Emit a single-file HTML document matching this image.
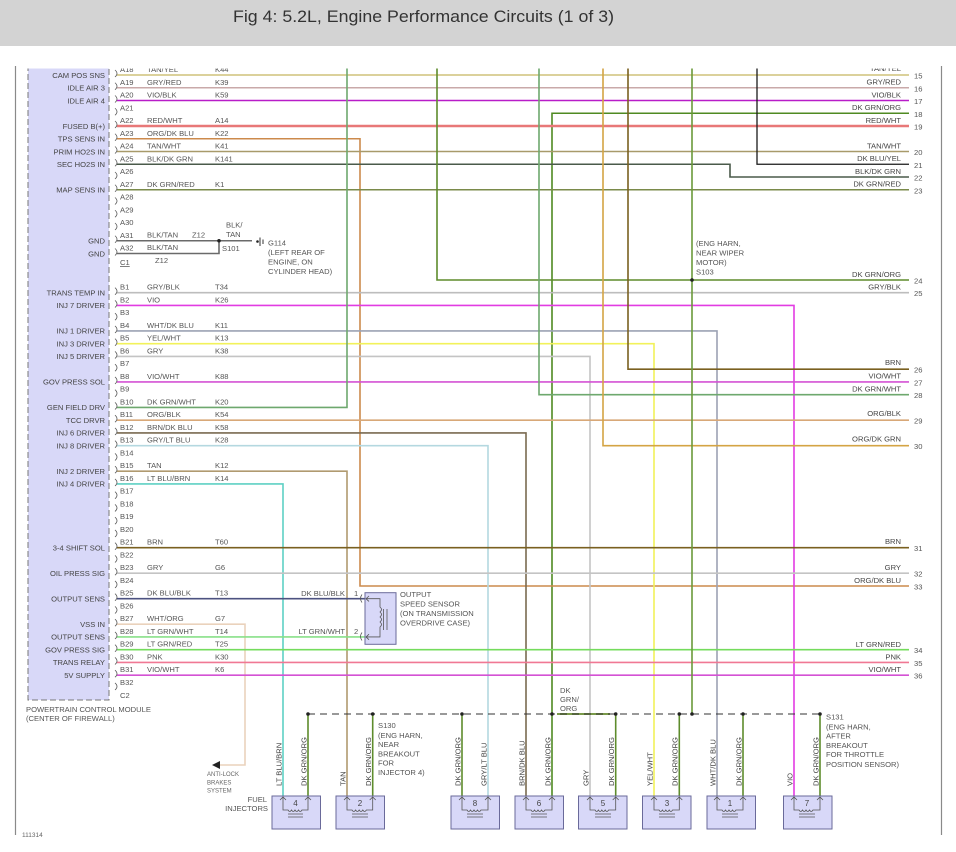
<!DOCTYPE html>
<html><head><meta charset="utf-8"><style>
html,body{margin:0;padding:0;background:#fff;}
svg{display:block;}
text{font-family:"Liberation Sans",Arial,sans-serif;}
</style></head><body>
<svg width="956" height="852" viewBox="0 0 956 852" xmlns="http://www.w3.org/2000/svg">
<defs><clipPath id="c"><rect x="0" y="68.5" width="956" height="790"/></clipPath></defs>
<rect width="956" height="852" fill="#fff"/>
<rect width="956" height="46" fill="#d3d3d3"/>
<text x="423.5" y="22" font-size="17" text-anchor="middle" textLength="381" lengthAdjust="spacingAndGlyphs" fill="#333">Fig 4: 5.2L, Engine Performance Circuits (1 of 3)</text>

<line x1="15.5" y1="66" x2="15.5" y2="835" stroke="#8a8a8a" stroke-width="1.2"/>
<line x1="941.5" y1="66" x2="941.5" y2="835" stroke="#8a8a8a" stroke-width="1.2"/>

<g clip-path="url(#c)">
<!-- PCM box -->
<rect x="28" y="60" width="81" height="640" fill="#d8d8f8" stroke="#777" stroke-width="1" stroke-dasharray="6,3"/>

<!-- wires -->
<g fill="none" stroke-width="1.6">
<path d="M117,75 H909" stroke="#cfc27a"/>
<path d="M117,87.75 H909" stroke="#c9a9a9"/>
<path d="M117,100.5 H909" stroke="#b81cc8"/>
<path d="M909,113.25 H552 V796" stroke="#4f8a22"/>
<path d="M117,126 H909" stroke="#e87878" stroke-width="2.4"/>
<path d="M117,138.75 H360 V586 H909" stroke="#cc8a4c"/>
<path d="M117,151.5 H909" stroke="#a89a6a"/>
<path d="M117,164.25 H730 V177 H909" stroke="#4a5a4a"/>
<path d="M757,60 V164.25 H909" stroke="#1a1a1a" stroke-width="1.3"/>
<path d="M117,189.75 H909" stroke="#7a8a4a"/>
<path d="M117,240.75 H252" stroke="#6a6a6a"/>
<path d="M117,253.5 H219 V240.75" stroke="#6a6a6a"/>
<path d="M437,60 V280 H909" stroke="#5e8c2c"/>
<path d="M117,292.7 H909" stroke="#bdbdbd"/>
<path d="M117,305.45 H794 V796" stroke="#e23ce2"/>
<path d="M117,330.95 H717 V796" stroke="#9ca2b4"/>
<path d="M117,343.7 H654 V796" stroke="#f2f25a"/>
<path d="M117,356.45 H590 V796" stroke="#c4c4c4"/>
<path d="M628,60 V369.2 H909" stroke="#7a6020"/>
<path d="M117,381.95 H909" stroke="#d452d4"/>
<path d="M539,60 V394.7 H909" stroke="#6ea86e"/>
<path d="M117,407.45 H347 V60" stroke="#6ea86e"/>
<path d="M117,420.2 H909" stroke="#d8a878"/>
<path d="M117,432.95 H526 V796" stroke="#7a6a50"/>
<path d="M117,445.7 H488 V796" stroke="#b4d8e0"/>
<path d="M603,60 V445.7 H909" stroke="#d4a444"/>
<path d="M117,471.2 H347 V796" stroke="#b09a70"/>
<path d="M117,483.95 H283 V796" stroke="#5ed0c4"/>
<path d="M117,547.7 H909" stroke="#7a6020"/>
<path d="M117,573.2 H909" stroke="#c4c4c4"/>
<path d="M117,598.7 H366" stroke="#4c5280"/>
<path d="M117,624.2 H245 V765 H219" stroke="#ead2bc"/>
<path d="M117,636.95 H366" stroke="#88e088"/>
<path d="M117,649.7 H909" stroke="#74dc5c"/>
<path d="M117,662.45 H909" stroke="#f07894"/>
<path d="M117,675.2 H909" stroke="#d452d4"/>
<path d="M692,60 V714" stroke="#6a9a3a"/>
<path d="M308,714 V796 M372.7,714 V796 M462,714 V796 M615.7,714 V796 M679.3,714 V796 M743,714 V796 M820,714 V796" stroke="#5e8c2c"/>
<path d="M557,714 H610" stroke="#7a9a4a" stroke-width="2"/>
</g>

<path d="M308,714 H820" stroke="#333" stroke-width="1" stroke-dasharray="7,5" fill="none"/>
<g fill="#222">
<circle cx="308" cy="714" r="1.8"/><circle cx="372.7" cy="714" r="1.8"/><circle cx="462" cy="714" r="1.8"/>
<circle cx="552" cy="714" r="1.8"/><circle cx="615.7" cy="714" r="1.8"/><circle cx="679.3" cy="714" r="1.8"/>
<circle cx="692" cy="714" r="1.8"/><circle cx="743" cy="714" r="1.8"/><circle cx="820" cy="714" r="1.8"/>
<circle cx="692" cy="280" r="1.8"/><circle cx="219" cy="240.75" r="1.8"/>
<polygon points="212,765 220,761 220,769"/>
<circle cx="257.5" cy="241.5" r="1.3"/>
</g>
<path d="M260,237.5 V246 M263,239.5 V244" stroke="#333" stroke-width="1"/>

<g fill="none" stroke="#555" stroke-width="0.8">
<path d="M115,70 q4,3.5 0,7 M115,82.75 q4,3.5 0,7 M115,95.5 q4,3.5 0,7 M115,108.25 q4,3.5 0,7 M115,121 q4,3.5 0,7 M115,133.75 q4,3.5 0,7 M115,146.5 q4,3.5 0,7 M115,159.25 q4,3.5 0,7 M115,172 q4,3.5 0,7 M115,184.75 q4,3.5 0,7 M115,197.5 q4,3.5 0,7 M115,210.25 q4,3.5 0,7 M115,223 q4,3.5 0,7 M115,235.75 q4,3.5 0,7 M115,248.5 q4,3.5 0,7"/>
<path d="M115,287.7 q4,3.5 0,7 M115,300.45 q4,3.5 0,7 M115,313.2 q4,3.5 0,7 M115,325.95 q4,3.5 0,7 M115,338.7 q4,3.5 0,7 M115,351.45 q4,3.5 0,7 M115,364.2 q4,3.5 0,7 M115,376.95 q4,3.5 0,7 M115,389.7 q4,3.5 0,7 M115,402.45 q4,3.5 0,7 M115,415.2 q4,3.5 0,7 M115,427.95 q4,3.5 0,7 M115,440.7 q4,3.5 0,7 M115,453.45 q4,3.5 0,7 M115,466.2 q4,3.5 0,7 M115,478.95 q4,3.5 0,7 M115,491.7 q4,3.5 0,7 M115,504.45 q4,3.5 0,7 M115,517.2 q4,3.5 0,7 M115,529.95 q4,3.5 0,7 M115,542.7 q4,3.5 0,7 M115,555.45 q4,3.5 0,7 M115,568.2 q4,3.5 0,7 M115,580.95 q4,3.5 0,7 M115,593.7 q4,3.5 0,7 M115,606.45 q4,3.5 0,7 M115,619.2 q4,3.5 0,7 M115,631.95 q4,3.5 0,7 M115,644.7 q4,3.5 0,7 M115,657.45 q4,3.5 0,7 M115,670.2 q4,3.5 0,7 M115,682.95 q4,3.5 0,7"/>
<path d="M362,594.5 q-3,4 0,8 M362,632.5 q-3,4 0,8"/>
</g>

<g font-size="7.6" fill="#444" text-anchor="end">
<text x="105" y="77.8">CAM POS SNS</text>
<text x="105" y="90.5">IDLE AIR 3</text>
<text x="105" y="103.3">IDLE AIR 4</text>
<text x="105" y="128.8">FUSED B(+)</text>
<text x="105" y="141.5">TPS SENS IN</text>
<text x="105" y="154.3">PRIM HO2S IN</text>
<text x="105" y="167">SEC HO2S IN</text>
<text x="105" y="192.5">MAP SENS IN</text>
<text x="105" y="243.5">GND</text>
<text x="105" y="256.3">GND</text>
<text x="105" y="295.5">TRANS TEMP IN</text>
<text x="105" y="308.2">INJ 7 DRIVER</text>
<text x="105" y="333.7">INJ 1 DRIVER</text>
<text x="105" y="346.5">INJ 3 DRIVER</text>
<text x="105" y="359.2">INJ 5 DRIVER</text>
<text x="105" y="384.7">GOV PRESS SOL</text>
<text x="105" y="410.2">GEN FIELD DRV</text>
<text x="105" y="423">TCC DRVR</text>
<text x="105" y="435.7">INJ 6 DRIVER</text>
<text x="105" y="448.5">INJ 8 DRIVER</text>
<text x="105" y="474">INJ 2 DRIVER</text>
<text x="105" y="486.7">INJ 4 DRIVER</text>
<text x="105" y="550.5">3-4 SHIFT SOL</text>
<text x="105" y="576">OIL PRESS SIG</text>
<text x="105" y="601.5">OUTPUT SENS</text>
<text x="105" y="627">VSS IN</text>
<text x="105" y="639.7">OUTPUT SENS</text>
<text x="105" y="652.5">GOV PRESS SIG</text>
<text x="105" y="665.2">TRANS RELAY</text>
<text x="105" y="678">5V SUPPLY</text>
</g>

<g font-size="7.6" fill="#555">
<text x="120" y="72">A18</text><text x="147" y="72">TAN/YEL</text><text x="215" y="72">K44</text>
<text x="120" y="84.75">A19</text><text x="147" y="84.75">GRY/RED</text><text x="215" y="84.75">K39</text>
<text x="120" y="97.5">A20</text><text x="147" y="97.5">VIO/BLK</text><text x="215" y="97.5">K59</text>
<text x="120" y="110.25">A21</text>
<text x="120" y="123">A22</text><text x="147" y="123">RED/WHT</text><text x="215" y="123">A14</text>
<text x="120" y="135.75">A23</text><text x="147" y="135.75">ORG/DK BLU</text><text x="215" y="135.75">K22</text>
<text x="120" y="148.5">A24</text><text x="147" y="148.5">TAN/WHT</text><text x="215" y="148.5">K41</text>
<text x="120" y="161.25">A25</text><text x="147" y="161.25">BLK/DK GRN</text><text x="215" y="161.25">K141</text>
<text x="120" y="174">A26</text>
<text x="120" y="186.75">A27</text><text x="147" y="186.75">DK GRN/RED</text><text x="215" y="186.75">K1</text>
<text x="120" y="199.5">A28</text>
<text x="120" y="212.25">A29</text>
<text x="120" y="225">A30</text>
<text x="120" y="237.75">A31</text><text x="147" y="237.5">BLK/TAN</text><text x="192" y="237.5">Z12</text>
<text x="120" y="250.5">A32</text><text x="147" y="250">BLK/TAN</text>
<text x="120" y="265" text-decoration="underline">C1</text><text x="155" y="263">Z12</text>
<text x="226" y="227.5">BLK/</text><text x="226" y="237">TAN</text>
<text x="222" y="251">S101</text>
<text x="268" y="245.5">G114</text>
<text x="268" y="255">(LEFT REAR OF</text>
<text x="268" y="264.5">ENGINE, ON</text>
<text x="268" y="274">CYLINDER HEAD)</text>

<text x="120" y="289.7">B1</text><text x="147" y="289.7">GRY/BLK</text><text x="215" y="289.7">T34</text>
<text x="120" y="302.45">B2</text><text x="147" y="302.45">VIO</text><text x="215" y="302.45">K26</text>
<text x="120" y="315.2">B3</text>
<text x="120" y="327.95">B4</text><text x="147" y="327.95">WHT/DK BLU</text><text x="215" y="327.95">K11</text>
<text x="120" y="340.7">B5</text><text x="147" y="340.7">YEL/WHT</text><text x="215" y="340.7">K13</text>
<text x="120" y="353.45">B6</text><text x="147" y="353.45">GRY</text><text x="215" y="353.45">K38</text>
<text x="120" y="366.2">B7</text>
<text x="120" y="378.95">B8</text><text x="147" y="378.95">VIO/WHT</text><text x="215" y="378.95">K88</text>
<text x="120" y="391.7">B9</text>
<text x="120" y="404.45">B10</text><text x="147" y="404.45">DK GRN/WHT</text><text x="215" y="404.45">K20</text>
<text x="120" y="417.2">B11</text><text x="147" y="417.2">ORG/BLK</text><text x="215" y="417.2">K54</text>
<text x="120" y="429.95">B12</text><text x="147" y="429.95">BRN/DK BLU</text><text x="215" y="429.95">K58</text>
<text x="120" y="442.7">B13</text><text x="147" y="442.7">GRY/LT BLU</text><text x="215" y="442.7">K28</text>
<text x="120" y="455.45">B14</text>
<text x="120" y="468.2">B15</text><text x="147" y="468.2">TAN</text><text x="215" y="468.2">K12</text>
<text x="120" y="480.95">B16</text><text x="147" y="480.95">LT BLU/BRN</text><text x="215" y="480.95">K14</text>
<text x="120" y="493.7">B17</text>
<text x="120" y="506.45">B18</text>
<text x="120" y="519.2">B19</text>
<text x="120" y="531.95">B20</text>
<text x="120" y="544.7">B21</text><text x="147" y="544.7">BRN</text><text x="215" y="544.7">T60</text>
<text x="120" y="557.45">B22</text>
<text x="120" y="570.2">B23</text><text x="147" y="570.2">GRY</text><text x="215" y="570.2">G6</text>
<text x="120" y="582.95">B24</text>
<text x="120" y="595.7">B25</text><text x="147" y="595.7">DK BLU/BLK</text><text x="215" y="595.7">T13</text>
<text x="120" y="608.45">B26</text>
<text x="120" y="621.2">B27</text><text x="147" y="621.2">WHT/ORG</text><text x="215" y="621.2">G7</text>
<text x="120" y="633.95">B28</text><text x="147" y="633.95">LT GRN/WHT</text><text x="215" y="633.95">T14</text>
<text x="120" y="646.7">B29</text><text x="147" y="646.7">LT GRN/RED</text><text x="215" y="646.7">T25</text>
<text x="120" y="659.45">B30</text><text x="147" y="659.45">PNK</text><text x="215" y="659.45">K30</text>
<text x="120" y="672.2">B31</text><text x="147" y="672.2">VIO/WHT</text><text x="215" y="672.2">K6</text>
<text x="120" y="684.95">B32</text>
<text x="120" y="698">C2</text>

<text x="26" y="712">POWERTRAIN CONTROL MODULE</text>
<text x="26" y="721">(CENTER OF FIREWALL)</text>

<text x="345" y="596" text-anchor="end">DK BLU/BLK</text>
<text x="345" y="634" text-anchor="end">LT GRN/WHT</text>
<text x="354" y="596">1</text>
<text x="354" y="634">2</text>
<text x="400" y="597">OUTPUT</text>
<text x="400" y="606.5">SPEED SENSOR</text>
<text x="400" y="616">(ON TRANSMISSION</text>
<text x="400" y="625.5">OVERDRIVE CASE)</text>

<text x="696" y="246">(ENG HARN,</text>
<text x="696" y="255.5">NEAR WIPER</text>
<text x="696" y="265">MOTOR)</text>
<text x="696" y="274.5">S103</text>
<text x="560" y="693">DK</text>
<text x="560" y="702">GRN/</text>
<text x="560" y="711">ORG</text>
<text x="378" y="728">S130</text>
<text x="378" y="738">(ENG HARN,</text>
<text x="378" y="747">NEAR</text>
<text x="378" y="756.5">BREAKOUT</text>
<text x="378" y="765.5">FOR</text>
<text x="378" y="775">INJECTOR 4)</text>
<text x="826" y="719.5">S131</text>
<text x="826" y="729.5">(ENG HARN,</text>
<text x="826" y="738.5">AFTER</text>
<text x="826" y="748">BREAKOUT</text>
<text x="826" y="757">FOR THROTTLE</text>
<text x="826" y="767">POSITION SENSOR)</text>
<text x="267" y="802" text-anchor="end">FUEL</text>
<text x="268" y="811" text-anchor="end">INJECTORS</text>
</g>
<g font-size="6" fill="#666">
<text x="207" y="776">ANTI-LOCK</text>
<text x="207" y="784.5">BRAKES</text>
<text x="207" y="792.5">SYSTEM</text>
<text x="22" y="837" font-size="6.5">111314</text>
</g>

<g font-size="7.6" fill="#444" text-anchor="end">
<text x="901" y="71">TAN/YEL</text>
<text x="901" y="84.5">GRY/RED</text>
<text x="901" y="97.3">VIO/BLK</text>
<text x="901" y="110">DK GRN/ORG</text>
<text x="901" y="122.8">RED/WHT</text>
<text x="901" y="148.3">TAN/WHT</text>
<text x="901" y="161">DK BLU/YEL</text>
<text x="901" y="173.8">BLK/DK GRN</text>
<text x="901" y="186.5">DK GRN/RED</text>
<text x="901" y="276.8">DK GRN/ORG</text>
<text x="901" y="289.5">GRY/BLK</text>
<text x="901" y="365">BRN</text>
<text x="901" y="378.7">VIO/WHT</text>
<text x="901" y="391.5">DK GRN/WHT</text>
<text x="901" y="416">ORG/BLK</text>
<text x="901" y="441.5">ORG/DK GRN</text>
<text x="901" y="544">BRN</text>
<text x="901" y="570">GRY</text>
<text x="901" y="583">ORG/DK BLU</text>
<text x="901" y="647">LT GRN/RED</text>
<text x="901" y="659.5">PNK</text>
<text x="901" y="672.2">VIO/WHT</text>
</g>
<g font-size="7.6" fill="#555">
<text x="914" y="78.5">15</text>
<text x="914" y="91.3">16</text>
<text x="914" y="104">17</text>
<text x="914" y="116.8">18</text>
<text x="914" y="129.5">19</text>
<text x="914" y="155">20</text>
<text x="914" y="167.8">21</text>
<text x="914" y="180.5">22</text>
<text x="914" y="193.3">23</text>
<text x="914" y="283.5">24</text>
<text x="914" y="296.2">25</text>
<text x="914" y="372.7">26</text>
<text x="914" y="385.5">27</text>
<text x="914" y="398.2">28</text>
<text x="914" y="423.7">29</text>
<text x="914" y="449.2">30</text>
<text x="914" y="551.2">31</text>
<text x="914" y="576.7">32</text>
<text x="914" y="589.5">33</text>
<text x="914" y="653.2">34</text>
<text x="914" y="666">35</text>
<text x="914" y="678.7">36</text>
</g>

<rect x="365" y="592.7" width="31" height="51.6" fill="#d8d8f8" stroke="#6a6a9a" stroke-width="1"/>
<g fill="none" stroke="#555" stroke-width="0.8">
<path d="M369,596 L366,598.7 L369,601.4 M366,598.7 H380 V607 q3,2.5 0,5 q3,2.5 0,5 q3,2.5 0,5 q3,2.5 0,5 V636.95 H366 M369,634.2 L366,636.95 L369,639.7"/>
<path d="M383.5,609 V630 M387,609 V630"/>
</g>

<g font-size="7.6" fill="#444">
<text transform="translate(281.5,786) rotate(-90)">LT BLU/BRN</text>
<text transform="translate(306.5,786) rotate(-90)">DK GRN/ORG</text>
<text transform="translate(345.5,786) rotate(-90)">TAN</text>
<text transform="translate(371,786) rotate(-90)">DK GRN/ORG</text>
<text transform="translate(460.5,786) rotate(-90)">DK GRN/ORG</text>
<text transform="translate(486.5,786) rotate(-90)">GRY/LT BLU</text>
<text transform="translate(524.5,786) rotate(-90)">BRN/DK BLU</text>
<text transform="translate(550.5,786) rotate(-90)">DK GRN/ORG</text>
<text transform="translate(588.5,786) rotate(-90)">GRY</text>
<text transform="translate(614,786) rotate(-90)">DK GRN/ORG</text>
<text transform="translate(652.5,786) rotate(-90)">YEL/WHT</text>
<text transform="translate(677.5,786) rotate(-90)">DK GRN/ORG</text>
<text transform="translate(715.5,786) rotate(-90)">WHT/DK BLU</text>
<text transform="translate(741.5,786) rotate(-90)">DK GRN/ORG</text>
<text transform="translate(792.5,786) rotate(-90)">VIO</text>
<text transform="translate(818.5,786) rotate(-90)">DK GRN/ORG</text>
</g>

<g stroke="#6a6a9a" stroke-width="1" fill="#d8d8f8">
<rect x="272" y="796" width="48.5" height="33"/>
<rect x="336" y="796" width="48.5" height="33"/>
<rect x="451" y="796" width="48.5" height="33"/>
<rect x="515" y="796" width="48.5" height="33"/>
<rect x="578.5" y="796" width="48.5" height="33"/>
<rect x="642.5" y="796" width="48.5" height="33"/>
<rect x="707" y="796" width="48.5" height="33"/>
<rect x="783.5" y="796" width="48.5" height="33"/>
</g>
<g fill="none" stroke="#555" stroke-width="0.8">
<path d="M280,800 l3,-3 l3,3 M283,797 V810 H288 q1.75,3 3.5,0 q1.75,3 3.5,0 q1.75,3 3.5,0 q1.75,3 3.5,0 H308 V797 M305,800 l3,-3 l3,3 M288,814 H303 M288,817 H303"/>
<path d="M344,800 l3,-3 l3,3 M347,797 V810 H352 q1.8,3 3.6,0 q1.8,3 3.6,0 q1.8,3 3.6,0 q1.8,3 3.6,0 H372.7 V797 M369.7,800 l3,-3 l3,3 M352,814 H368 M352,817 H368"/>
<path d="M459,800 l3,-3 l3,3 M462,797 V810 H467 q1.75,3 3.5,0 q1.75,3 3.5,0 q1.75,3 3.5,0 q1.75,3 3.5,0 H488 V797 M485,800 l3,-3 l3,3 M467,814 H483 M467,817 H483"/>
<path d="M523,800 l3,-3 l3,3 M526,797 V810 H531 q1.75,3 3.5,0 q1.75,3 3.5,0 q1.75,3 3.5,0 q1.75,3 3.5,0 H552 V797 M549,800 l3,-3 l3,3 M531,814 H547 M531,817 H547"/>
<path d="M587,800 l3,-3 l3,3 M590,797 V810 H595 q1.7,3 3.4,0 q1.7,3 3.4,0 q1.7,3 3.4,0 q1.7,3 3.4,0 H615.7 V797 M612.7,800 l3,-3 l3,3 M595,814 H611 M595,817 H611"/>
<path d="M651,800 l3,-3 l3,3 M654,797 V810 H659 q1.7,3 3.4,0 q1.7,3 3.4,0 q1.7,3 3.4,0 q1.7,3 3.4,0 H679.3 V797 M676.3,800 l3,-3 l3,3 M659,814 H675 M659,817 H675"/>
<path d="M714,800 l3,-3 l3,3 M717,797 V810 H722 q1.75,3 3.5,0 q1.75,3 3.5,0 q1.75,3 3.5,0 q1.75,3 3.5,0 H743 V797 M740,800 l3,-3 l3,3 M722,814 H738 M722,817 H738"/>
<path d="M791,800 l3,-3 l3,3 M794,797 V810 H799 q1.75,3 3.5,0 q1.75,3 3.5,0 q1.75,3 3.5,0 q1.75,3 3.5,0 H820 V797 M817,800 l3,-3 l3,3 M799,814 H815 M799,817 H815"/>
</g>
<g font-size="8" fill="#444" text-anchor="middle">
<text x="295.5" y="806">4</text>
<text x="360" y="806">2</text>
<text x="475" y="806">8</text>
<text x="539" y="806">6</text>
<text x="603" y="806">5</text>
<text x="667" y="806">3</text>
<text x="730" y="806">1</text>
<text x="807" y="806">7</text>
</g>
</g>
</svg>
</body></html>
